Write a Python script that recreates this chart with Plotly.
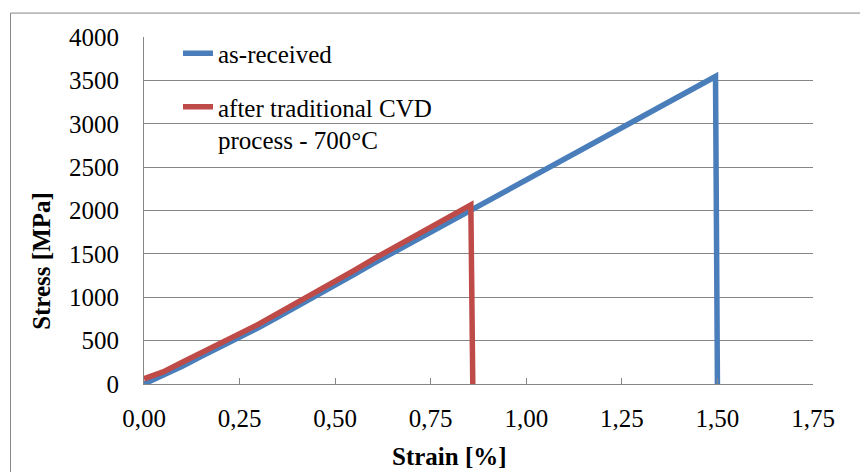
import plotly.graph_objects as go

# ---- data ----
strain_as_received = [0.00, 0.05, 0.10, 0.15, 0.20, 0.25, 0.30, 0.35, 0.40, 0.45,
                      0.50, 0.55, 0.60, 0.65, 0.70, 0.75, 0.80, 0.85, 0.90, 0.95,
                      1.00, 1.05, 1.10, 1.15, 1.20, 1.25, 1.30, 1.35, 1.40, 1.45,
                      1.495, 1.50]
stress_as_received = [0, 100, 205, 320, 425, 530, 650, 770, 890, 1010,
                      1135, 1265, 1390, 1510, 1630, 1750, 1870, 1990, 2110, 2230,
                      2355, 2470, 2590, 2710, 2830, 2950, 3070, 3190, 3310, 3430,
                      3545, 0]

strain_cvd = [0.00, 0.05, 0.10, 0.15, 0.20, 0.25, 0.30, 0.35, 0.40, 0.45,
              0.50, 0.55, 0.60, 0.65, 0.70, 0.75, 0.80, 0.85, 0.855, 0.86]
stress_cvd = [60, 140, 250, 360, 465, 570, 690, 815, 935, 1060,
              1180, 1310, 1440, 1560, 1680, 1800, 1925, 2050, 2065, 0]

x_ticks = [0, 0.25, 0.5, 0.75, 1.0, 1.25, 1.5, 1.75]
x_tick_labels = ["0,00", "0,25", "0,50", "0,75", "1,00", "1,25", "1,50", "1,75"]
y_ticks = [0, 500, 1000, 1500, 2000, 2500, 3000, 3500, 4000]

name_1 = "as-received"
name_2 = "after traditional CVD<br>process - 700°C"

BLUE = "#4A7EBB"
RED = "#BE4B48"
GRID = "#868686"
FONT = "Liberation Serif"

fig = go.Figure()
fig.add_trace(go.Scatter(x=strain_as_received, y=stress_as_received, mode="lines",
                         name=name_1, legendgroup="g1",
                         line=dict(color=BLUE, width=5.5)))
fig.add_trace(go.Scatter(x=strain_cvd, y=stress_cvd, mode="lines",
                         name=name_2, legendgroup="g2",
                         line=dict(color=RED, width=5.5)))

L, R, T, B = 144, 47, 36.5, 87.5
W, H = 860, 472
pw, ph = W - L - R, H - T - B

def px2x(px):
    return (px - L) / pw

def py2y(py):
    return (H - B - py) / ph

fig.update_layout(
    width=W, height=H,
    margin=dict(l=L, r=R, t=T, b=B, autoexpand=False),
    paper_bgcolor="white", plot_bgcolor="white",
    font=dict(family=FONT, size=25, color="black"),
    showlegend=True,
    legend=dict(x=px2x(178), y=py2y(30), xanchor="left", yanchor="top",
                bgcolor="rgba(0,0,0,0)", valign="top", tracegroupgap=18,
                font=dict(family=FONT, size=25, color="black")),
    xaxis=dict(range=[0, 1.75], tickvals=x_ticks, ticktext=x_tick_labels,
               showgrid=False, zeroline=False, showline=True, linecolor=GRID, linewidth=1,
               ticks="inside", ticklen=6, tickcolor=GRID, ticklabelstandoff=12,
               tickfont=dict(family=FONT, size=25)),
    yaxis=dict(range=[0, 4000], tickvals=y_ticks,
               showgrid=True, gridcolor=GRID, gridwidth=1, zeroline=False,
               showline=True, linecolor=GRID, linewidth=1, ticks="",
               ticklabelstandoff=19, tickfont=dict(family=FONT, size=25)),
    annotations=[
        dict(text="<b>Stress [MPa]</b>", xref="paper", yref="paper",
             x=px2x(42), y=py2y(261), textangle=-90, showarrow=False,
             xanchor="center", yanchor="middle", font=dict(family=FONT, size=25)),
        dict(text="<b>Strain [%]</b>", xref="paper", yref="paper",
             x=px2x(449), y=py2y(457), showarrow=False,
             xanchor="center", yanchor="middle", font=dict(family=FONT, size=25)),
    ],
    shapes=[
        dict(type="line", xref="paper", yref="paper", x0=px2x(10.5), x1=px2x(10.5),
             y0=py2y(12.5), y1=py2y(480), line=dict(color=GRID, width=1)),
        dict(type="line", xref="paper", yref="paper", x0=px2x(10.5), x1=px2x(870),
             y0=py2y(12.5), y1=py2y(12.5), line=dict(color=GRID, width=1)),
    ],
)

fig.write_html("out.html", config={"displayModeBar": False},
               post_script="document.body.style.margin='0';document.body.style.overflow='hidden';")
